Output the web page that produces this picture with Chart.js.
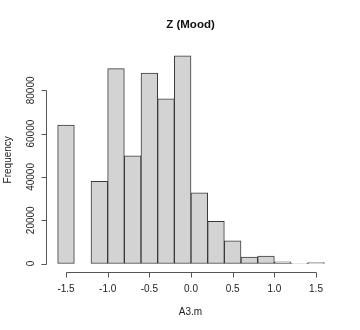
<!DOCTYPE html>
<html><head><meta charset="utf-8">
<script src="https://cdn.jsdelivr.net/npm/chart.js@4.4.1/dist/chart.umd.min.js"></script>
<style>html,body{margin:0;padding:0;background:#fff}#wrap{width:360px;height:330px}</style>
</head><body><div id="wrap"><canvas id="c" width="360" height="330"></canvas></div>
<script>
// ---- data ----
const binStarts = [-1.6,-1.4,-1.2,-1.0,-0.8,-0.6,-0.4,-0.2,0.0,0.2,0.4,0.6,0.8,1.0,1.2,1.4];
const binWidth = 0.2;
const frequencies = [64000,0,38000,90000,49800,88000,76100,96000,32700,19500,10500,3000,3400,800,150,450];
const xTicks = [-1.5,-1.0,-0.5,0.0,0.5,1.0,1.5];
const xTickLabels = ["-1.5","-1.0","-0.5","0.0","0.5","1.0","1.5"];
const yTicks = [0,20000,40000,60000,80000];
const yTickLabels = ["0","20000","40000","60000","80000"];
const chartTitle = "Z (Mood)";
const xTitle = "A3.m";
const yTitle = "Frequency";

const points = binStarts.map((s,i)=>({x: s + binWidth/2, y: frequencies[i]}));

const FONT = '"Liberation Sans", Arial, sans-serif';

const rAxes = {
  id: 'rAxes',
  afterDraw(chart){
    const ctx = chart.ctx, ca = chart.chartArea;
    const xs = chart.scales.x, ys = chart.scales.y;
    ctx.save();
    ctx.strokeStyle = '#555';
    ctx.lineWidth = 1;
    const by = Math.round(ca.bottom) + 0.5;
    const lx = Math.round(ca.left) + 0.5;
    // x axis
    ctx.beginPath();
    const x0 = Math.round(xs.getPixelForValue(xTicks[0])) + 0.5;
    const x1 = Math.round(xs.getPixelForValue(xTicks[xTicks.length-1])) + 0.5;
    ctx.moveTo(x0, by); ctx.lineTo(x1, by);
    xTicks.forEach(v=>{ const p = Math.round(xs.getPixelForValue(v)) + 0.5; ctx.moveTo(p, by); ctx.lineTo(p, by + 5); });
    // y axis
    const y0 = Math.round(ys.getPixelForValue(yTicks[0])) + 0.5;
    const y1 = Math.round(ys.getPixelForValue(yTicks[yTicks.length-1])) + 0.5;
    ctx.moveTo(lx, y0); ctx.lineTo(lx, y1);
    yTicks.forEach(v=>{ const p = Math.round(ys.getPixelForValue(v)) + 0.5; ctx.moveTo(lx, p); ctx.lineTo(lx - 5, p); });
    ctx.stroke();

    ctx.fillStyle = '#222';
    ctx.textAlign = 'center';
    ctx.textBaseline = 'middle';
    ctx.font = '10px ' + FONT;
    xTicks.forEach((v,i)=>{ ctx.fillText(xTickLabels[i], xs.getPixelForValue(v), 289.5); });
    yTicks.forEach((v,i)=>{
      ctx.save();
      ctx.translate(31, ys.getPixelForValue(v));
      ctx.rotate(-Math.PI/2);
      ctx.fillText(yTickLabels[i], 0, 0);
      ctx.restore();
    });
    const cx = (ca.left + ca.right)/2, cy = (ca.top + ca.bottom)/2;
    ctx.fillText(xTitle, cx, 312);
    ctx.save();
    ctx.translate(8.5, cy);
    ctx.rotate(-Math.PI/2);
    ctx.fillText(yTitle, 0, 0);
    ctx.restore();
    ctx.font = 'bold 11.5px ' + FONT;
    ctx.fillStyle = '#111';
    ctx.fillText(chartTitle, cx, 24.5);
    ctx.restore();
  }
};

new Chart(document.getElementById('c'), {
  type: 'bar',
  data: {
    datasets: [{
      data: points,
      backgroundColor: '#d3d3d3',
      borderColor: '#3a3a3a',
      borderWidth: 1,
      borderSkipped: false,
      barPercentage: 1,
      categoryPercentage: 1
    }]
  },
  options: {
    responsive: false,
    animation: false,
    devicePixelRatio: 1,
    layout: { padding: { left: 0, right: 25, top: 47.4, bottom: 0 } },
    plugins: { legend: { display: false }, tooltip: { enabled: false }, title: { display: false } },
    scales: {
      x: {
        type: 'linear', position: 'bottom', min: -1.74, max: 1.728, offset: false,
        grid: { display: false, offset: false }, border: { display: false }, ticks: { display: false },
        afterFit: s => { s.height = 57.8; }
      },
      y: {
        type: 'linear', min: -4000, max: 99840,
        grid: { display: false }, border: { display: false }, ticks: { display: false },
        afterFit: s => { s.width = 46; }
      }
    }
  },
  plugins: [rAxes]
});
</script>
</body></html>
